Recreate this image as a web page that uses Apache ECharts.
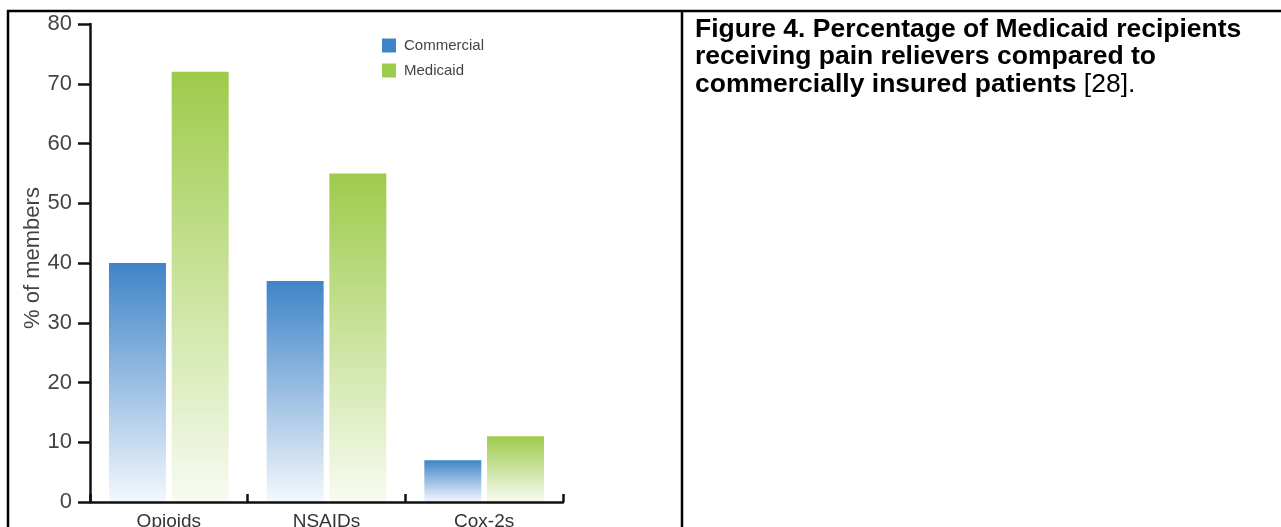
<!DOCTYPE html>
<html>
<head>
<meta charset="utf-8">
<script src="https://cdn.jsdelivr.net/npm/echarts@6/dist/echarts.min.js"></script>
<style>
  html, body { margin: 0; padding: 0; background: #fff; }
  #chart { width: 1281px; height: 527px; }
</style>
</head>
<body>
<div id="chart"></div>
<script>
// Drug classes on the x axis
const categories = ['Opioids', 'NSAIDs', 'Cox-2s'];
// Percentage of members receiving each class
const commercialValues = [40, 37, 7];
const medicaidValues = [72, 55, 11];
const seriesNames = ['Commercial', 'Medicaid'];
const captionBold = [
  'Figure 4. Percentage of Medicaid recipients',
  'receiving pain relievers compared to',
  'commercially insured patients'
];
const captionRef = '[28].';

const sans = "'Liberation Sans', Arial, sans-serif";

function fade(top, bottom) {
  return new echarts.graphic.LinearGradient(0, 0, 0, 1, [
    { offset: 0, color: top },
    { offset: 1, color: bottom }
  ]);
}

const chart = echarts.init(document.getElementById('chart'), null, { renderer: 'canvas' });

chart.setOption({
  backgroundColor: '#ffffff',
  animation: false,
  grid: {
    left: 90, right: 718, top: 24, bottom: 25,
    containLabel: false,
    outerBoundsMode: 'none'
  },
  legend: {
    orient: 'vertical',
    left: 382,
    top: 38,
    padding: 0,
    itemWidth: 14,
    itemHeight: 14,
    itemGap: 10,
    icon: 'rect',
    textStyle: { fontFamily: sans, fontSize: 15, color: '#444', padding: [0, 0, 0, 3] },
    data: [
      { name: seriesNames[0], itemStyle: { color: '#3f84c8' } },
      { name: seriesNames[1], itemStyle: { color: '#9dcb4b' } }
    ]
  },
  xAxis: {
    type: 'category',
    data: categories,
    boundaryGap: true,
    z: 10,
    axisLine: { show: true, lineStyle: { color: '#111', width: 2.5 } },
    axisTick: {
      show: true,
      interval: 0,
      alignWithLabel: false,
      inside: true,
      length: 8,
      lineStyle: { color: '#111', width: 2.5 }
    },
    axisLabel: { margin: 10, fontFamily: sans, fontSize: 19, color: '#333' }
  },
  yAxis: {
    type: 'value',
    min: 0,
    max: 80,
    interval: 10,
    z: 10,
    name: '% of members',
    nameLocation: 'middle',
    nameGap: 40,
    nameRotate: 90,
    nameTextStyle: { fontFamily: sans, fontSize: 22, color: '#444', padding: [0, 0, 0, 10] },
    splitLine: { show: false },
    axisLine: { show: true, lineStyle: { color: '#111', width: 2.5 } },
    axisTick: { show: true, length: 12, lineStyle: { color: '#111', width: 2.5 } },
    axisLabel: { margin: 18, fontFamily: sans, fontSize: 22, color: '#444' }
  },
  series: [
    {
      name: seriesNames[0],
      type: 'bar',
      data: commercialValues,
      barWidth: 57,
      barGap: '10%',
      itemStyle: { color: fade('#3f84c8', '#f4f8fd') }
    },
    {
      name: seriesNames[1],
      type: 'bar',
      data: medicaidValues,
      barWidth: 57,
      barGap: '10%',
      itemStyle: { color: fade('#9dcb4b', '#f8fbf1') }
    }
  ],
  graphic: [
    // table frame: top rule, left rule, column divider
    { type: 'line', shape: { x1: 7, y1: 11, x2: 1281, y2: 11 }, style: { stroke: '#000', lineWidth: 2.5 } },
    { type: 'line', shape: { x1: 8, y1: 10, x2: 8, y2: 527 }, style: { stroke: '#000', lineWidth: 2.5 } },
    { type: 'line', shape: { x1: 682, y1: 10, x2: 682, y2: 527 }, style: { stroke: '#000', lineWidth: 2.5 } },
    // caption
    { type: 'text', left: 695, top: 16, style: { text: captionBold[0], font: 'bold 26.5px ' + sans, fill: '#000' } },
    { type: 'text', left: 695, top: 43, style: { text: captionBold[1], font: 'bold 26.5px ' + sans, fill: '#000' } },
    {
      type: 'text', left: 695, top: 71,
      style: {
        text: '{b|' + captionBold[2] + ' }{n|' + captionRef + '}',
        rich: {
          b: { font: 'bold 26.5px ' + sans, fill: '#000' },
          n: { font: '26.5px ' + sans, fill: '#000' }
        }
      }
    }
  ]
});
</script>
</body>
</html>
